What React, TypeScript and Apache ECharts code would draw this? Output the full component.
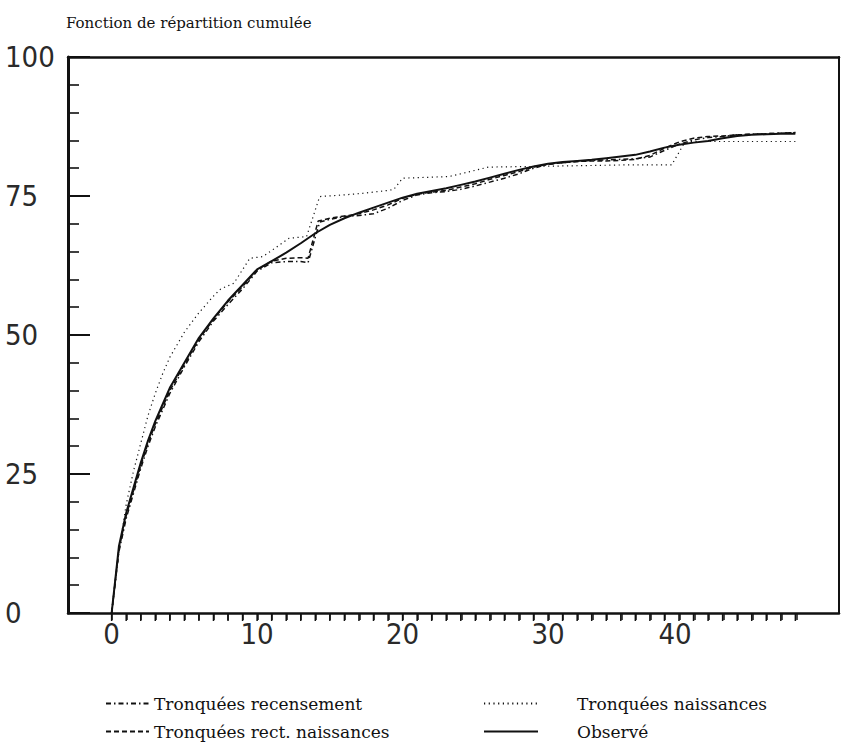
import React, { useEffect, useRef } from "react";
import * as echarts from "echarts";

// ---- Data ----
const observeX = [0, 0.5, 1, 1.5, 2, 2.5, 3, 3.5, 4, 5, 6, 7, 8, 9, 10, 11, 12, 13, 14, 15, 16, 17, 18, 19, 20, 21, 22, 23, 24, 25, 26, 27, 28, 29, 30, 31, 32, 33, 34, 35, 36, 37, 38, 39, 40, 41, 42, 43, 44, 45, 46, 47];
const observeY = [0, 12, 18, 22.5, 27, 31, 34.5, 37.5, 40.5, 45, 49.5, 53, 56.2, 59, 61.8, 63.3, 64.8, 66.5, 68.3, 69.8, 71, 72, 72.9, 73.8, 74.7, 75.4, 75.9, 76.4, 77, 77.6, 78.3, 79, 79.7, 80.3, 80.8, 81.1, 81.3, 81.5, 81.8, 82.1, 82.4, 83, 83.7, 84.2, 84.6, 84.9, 85.4, 85.8, 86, 86.1, 86.2, 86.2];

const recensementX = [0, 0.5, 1, 1.5, 2, 2.5, 3, 3.5, 4, 5, 6, 7, 8, 9, 10, 11, 12, 13, 13.5, 14.3, 15, 16, 17, 18, 19, 20, 21, 22, 23, 24, 25, 26, 27, 28, 29, 30, 31, 32, 33, 34, 35, 36, 37, 38, 39, 40, 41, 42, 43, 44, 45, 46, 47];
const recensementY = [0, 11, 17, 21.5, 26, 30, 33.5, 36.5, 39.5, 44.3, 48.8, 52.5, 55.5, 58.3, 61.5, 63, 63.2, 63.2, 63, 70.3, 70.8, 71.3, 71.5, 71.8, 72.8, 74.2, 75.2, 75.6, 75.8, 76.2, 76.8, 77.5, 78.2, 79, 80, 80.7, 81, 81.2, 81.4, 81.5, 81.6, 81.7, 82, 83.2, 84.3, 85.1, 85.5, 85.7, 86, 86.1, 86.2, 86.3, 86.4];

const rectNaissX = [0, 0.5, 1, 1.5, 2, 2.5, 3, 3.5, 4, 5, 6, 7, 8, 9, 10, 11, 12, 13, 13.5, 14.2, 15, 16, 17, 18, 19, 20, 21, 22, 23, 24, 25, 26, 27, 28, 29, 30, 31, 32, 33, 34, 35, 36, 37, 38, 39, 40, 41, 42, 43, 44, 45, 46, 47];
const rectNaissY = [0, 11.5, 17.5, 22, 26.5, 30.5, 34, 37, 40, 44.7, 49.2, 52.8, 56, 58.7, 61.7, 63.3, 63.8, 63.9, 63.8, 70.5, 71, 71.4, 71.8, 72.5, 73.4, 74.6, 75.3, 75.7, 76, 76.6, 77.2, 78, 78.7, 79.4, 80.2, 80.7, 81, 81.2, 81.3, 81.3, 81.4, 81.6, 82.3, 83.6, 84.7, 85.4, 85.7, 85.8, 86, 86.1, 86.2, 86.3, 86.4];

const naissX = [0, 0.5, 1, 1.5, 2, 2.5, 3, 3.5, 4, 5, 6, 7, 7.5, 8.4, 9.5, 10.4, 12.2, 13.4, 14.3, 16, 17.3, 19, 19.4, 20, 23.2, 24.5, 25.9, 28.7, 35.5, 38.5, 39.3, 39.7, 47];
const naissY = [0, 11, 19.5, 25.5, 30.5, 35.5, 39.5, 43, 46, 50.5, 54, 57, 58.3, 59.3, 63.8, 64.1, 67.4, 67.7, 74.9, 75.2, 75.5, 76, 76.2, 78.2, 78.5, 79.3, 80.2, 80.3, 80.6, 80.6, 84.2, 84.8, 84.8];

// x-axis tick marks (one per year, 0..47) and labelled values
const xTickValues = [0, 1, 2, 3, 4, 5, 6, 7, 8, 9, 10, 11, 12, 13, 14, 15, 16, 17, 18, 19, 20, 21, 22, 23, 24, 25, 26, 27, 28, 29, 30, 31, 32, 33, 34, 35, 36, 37, 38, 39, 40, 41, 42, 43, 44, 45, 46, 47];
const xLabels = [0, 10, 20, 30, 40];
const yTicks = [0, 25, 50, 75, 100];

const SERIES_NAMES = ["Tronquées recensement", "Tronquées rect. naissances", "Tronquées naissances", "Observé"];
const TITLE = "Fonction de répartition cumulée";

const zip = (xs: number[], ys: number[]) => xs.map((x, i) => [x, ys[i]]);

const X_MIN = -3;
const X_MAX = 50;
const TICK_MAX = 47;
const GRID_LEFT = 68;
const GRID_RIGHT = 2;
const GRID_TOP = 57;
const GRID_BOTTOM = 132;
const W = 842;
const H = 745;

const AXIS_FONT = "'DejaVu Sans Condensed', 'DejaVu Sans', sans-serif";
const SERIF = "'DejaVu Serif', 'Liberation Serif', serif";
const INK = "#111";
const LABEL_INK = "#2a2a2a";

export default function App() {
  const ref = useRef<HTMLDivElement>(null);
  useEffect(() => {
    if (!ref.current) return;
    const chart = echarts.init(ref.current, null, { renderer: "svg" });
    const plotW = W - GRID_LEFT - GRID_RIGHT;
    const unit = plotW / (X_MAX - X_MIN);
    const tickLeft = GRID_LEFT + (0 - X_MIN) * unit;
    const tickWidth = TICK_MAX * unit;

    const legendText = { fontFamily: SERIF, fontSize: 17, color: INK };

    const option: any = {
      animation: false,
      title: {
        text: TITLE,
        left: 61,
        top: 10,
        textStyle: { fontFamily: SERIF, fontSize: 15, fontWeight: "normal", color: INK },
      },
      grid: [
        { left: GRID_LEFT, right: GRID_RIGHT, top: GRID_TOP, bottom: GRID_BOTTOM },
        { left: tickLeft, width: tickWidth, top: GRID_TOP, bottom: GRID_BOTTOM },
      ],
      xAxis: [
        {
          type: "value",
          gridIndex: 0,
          min: X_MIN,
          max: X_MAX,
          interval: 1,
          axisLine: { show: true, onZero: false, lineStyle: { color: INK, width: 2.5 } },
          axisTick: { show: false },
          splitLine: { show: false },
          axisLabel: {
            margin: 6,
            fontFamily: AXIS_FONT,
            fontSize: 29,
            color: LABEL_INK,
            formatter: (v: number) => {
              if (!xLabels.includes(v)) return "";
              return v === 40 ? "{s|" + v + "}" : String(v);
            },
            rich: { s: { fontFamily: AXIS_FONT, fontSize: 29, color: LABEL_INK, padding: [0, 37, 0, 0] } },
          },
        },
        {
          type: "value",
          gridIndex: 0,
          position: "top",
          min: X_MIN,
          max: X_MAX,
          axisLine: { show: true, onZero: false, lineStyle: { color: INK, width: 2.5 } },
          axisTick: { show: false },
          axisLabel: { show: false },
          splitLine: { show: false },
        },
        {
          type: "value",
          gridIndex: 1,
          min: 0,
          max: TICK_MAX,
          interval: 1,
          axisLine: { show: true, onZero: false, lineStyle: { color: INK, width: 1 } },
          axisTick: { show: true, inside: false, length: 7, lineStyle: { color: INK, width: 1.5 } },
          axisLabel: { show: true, margin: 0, fontSize: 1, color: "rgba(0,0,0,0)", formatter: () => "\u00a0" },
          splitLine: { show: false },
        },
      ],
      yAxis: [
        {
          type: "value",
          gridIndex: 0,
          min: yTicks[0],
          max: yTicks[yTicks.length - 1],
          interval: 25,
          axisLine: { show: true, onZero: false, lineStyle: { color: INK, width: 3 } },
          axisTick: { show: true, inside: true, length: 22, lineStyle: { color: INK, width: 2 } },
          minorTick: { show: true, splitNumber: 5, length: 11, lineStyle: { color: INK, width: 1.6 } },
          splitLine: { show: false },
          axisLabel: {
            align: "left",
            margin: 63,
            fontFamily: AXIS_FONT,
            fontSize: 29,
            color: LABEL_INK,
          },
        },
        {
          type: "value",
          gridIndex: 0,
          position: "right",
          min: 0,
          max: 100,
          axisLine: { show: true, onZero: false, lineStyle: { color: INK, width: 2 } },
          axisTick: { show: false },
          axisLabel: { show: false },
          splitLine: { show: false },
        },
        { type: "value", gridIndex: 1, min: 0, max: 100, show: false },
      ],
      legend: [
        {
          data: [SERIES_NAMES[0], SERIES_NAMES[1]],
          orient: "vertical",
          left: 100,
          top: 690,
          height: 80,
          itemWidth: 43,
          itemHeight: 14,
          itemGap: 11,
          selectedMode: false,
          itemStyle: { opacity: 0 },
          textStyle: legendText,
        },
        {
          data: [SERIES_NAMES[2], SERIES_NAMES[3]],
          orient: "vertical",
          left: 478,
          top: 690,
          height: 80,
          itemWidth: 54,
          itemHeight: 14,
          itemGap: 11,
          selectedMode: false,
          itemStyle: { opacity: 0 },
          formatter: (name: string) => "{s| }" + name,
          textStyle: { ...legendText, rich: { s: { width: 34 } } },
        },
      ],
      series: [
        {
          name: SERIES_NAMES[0],
          type: "line",
          xAxisIndex: 0,
          yAxisIndex: 0,
          symbol: "none",
          data: zip(recensementX, recensementY),
          lineStyle: { color: INK, width: 1.5, type: [5, 3, 1.5, 3] },
          itemStyle: { color: INK },
        },
        {
          name: SERIES_NAMES[1],
          type: "line",
          xAxisIndex: 0,
          yAxisIndex: 0,
          symbol: "none",
          data: zip(rectNaissX, rectNaissY),
          lineStyle: { color: INK, width: 1.5, type: [5, 3] },
          itemStyle: { color: INK },
        },
        {
          name: SERIES_NAMES[2],
          type: "line",
          xAxisIndex: 0,
          yAxisIndex: 0,
          symbol: "none",
          data: zip(naissX, naissY),
          lineStyle: { color: INK, width: 1.2, type: [1.2, 3.5] },
          itemStyle: { color: INK },
        },
        {
          name: SERIES_NAMES[3],
          type: "line",
          xAxisIndex: 0,
          yAxisIndex: 0,
          symbol: "none",
          data: zip(observeX, observeY),
          lineStyle: { color: INK, width: 2 },
          itemStyle: { color: INK },
        },
        {
          name: "xTicks",
          type: "scatter",
          xAxisIndex: 0,
          yAxisIndex: 0,
          silent: true,
          clip: false,
          symbol: "rect",
          symbolSize: [1.5, 7],
          symbolOffset: [0, 4.5],
          itemStyle: { color: INK, opacity: 1 },
          data: xTickValues.map((v) => [v, 0]),
          z: 10,
        },
        {
          name: "tickAxis",
          type: "line",
          xAxisIndex: 2,
          yAxisIndex: 2,
          symbol: "none",
          data: [],
          silent: true,
        },
      ],
    };
    chart.setOption(option);
    return () => chart.dispose();
  }, []);
  return (
    <div
      ref={ref}
      style={{ position: "absolute", left: 0, top: 0, width: W, height: H, background: "#fff" }}
    />
  );
}
